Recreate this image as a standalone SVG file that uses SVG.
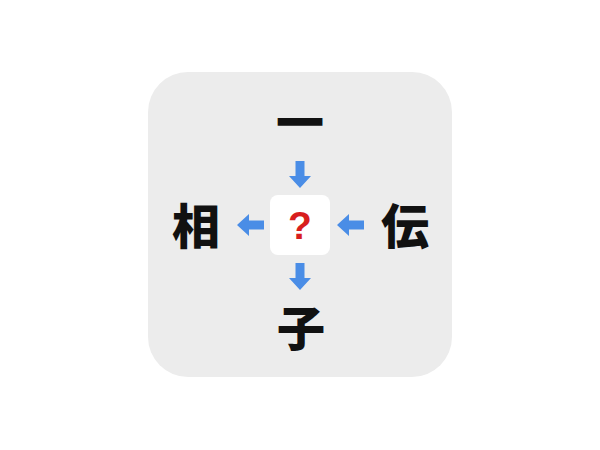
<svg xmlns="http://www.w3.org/2000/svg" xmlns:xlink="http://www.w3.org/1999/xlink" width="600" height="450" viewBox="0 0 600 450">
<style>
.kanji{font-family:"Noto Sans CJK JP","Noto Sans CJK SC",sans-serif;font-weight:900;font-size:48px;fill:#111;text-anchor:middle;dominant-baseline:central}
.arrow{fill:#4a8de6}
.q{font-family:"Liberation Sans","DejaVu Sans",sans-serif;font-weight:bold;font-size:39px;fill:#d81e1e;text-anchor:middle}
</style>
<defs>
<path id="arr" d="M-4.5,-27 H4.5 V-12 H11 L0,0 L-11,-12 H-4.5 Z"/>
</defs>
<rect x="148" y="72" width="304" height="305" rx="40" ry="40" fill="#ececec"/>
<g id="center">
<rect x="270" y="195" width="60" height="60" rx="8" ry="8" fill="#ffffff"/>
<text class="q" x="300" y="239">?</text>
</g>
<g id="top"><text class="kanji" x="300" y="119">一</text></g>
<g id="left"><text class="kanji" x="196" y="223">相</text></g>
<g id="right"><text class="kanji" x="405" y="223">伝</text></g>
<g id="bottom"><text class="kanji" x="301" y="325">子</text></g>
<g id="connectors" class="arrow">
<use xlink:href="#arr" href="#arr" transform="translate(300,188)"/>
<use xlink:href="#arr" href="#arr" transform="translate(300,290)"/>
<use xlink:href="#arr" href="#arr" transform="translate(237,225) rotate(90)"/>
<use xlink:href="#arr" href="#arr" transform="translate(337,225) rotate(90)"/>
</g>
</svg>
